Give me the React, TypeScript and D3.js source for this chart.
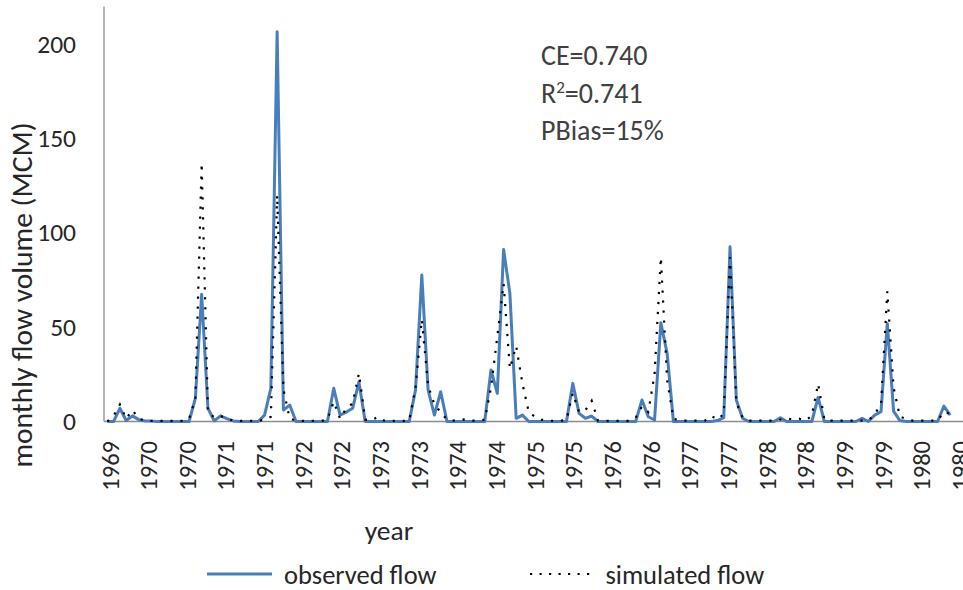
import React from 'react';
import * as d3 from 'd3';

// monthly flow volume (MCM), one value per month
const observed: number[] = [
  0, 0, 7, 0.5, 3, 1, 0.3, 0.2, 0, 0, 0, 0, 0, 0, 12.3, 67.4, 7, 0.3, 3, 1.5,
  0.3, 0, 0, 0, 0, 3.4, 17.6, 206.5, 6.1, 8.7, 0, 0, 0, 0, 0, 0, 17.6, 3.4, 5, 7,
  21, 0, 0, 0, 0, 0, 0, 0, 0, 16.7, 77.6, 16.7, 3.4, 15.8, 0, 0, 0, 0, 0, 0,
  0, 27.3, 14.9, 91.2, 67.9, 1.7, 3.4, 0, 0, 0, 0, 0, 0, 0, 20.2, 4.3, 1.7, 2.9, 0, 0,
  0, 0, 0, 0, 0, 11.4, 2.5, 0.8, 52.3, 36.1, 0, 0, 0, 0, 0, 0, 0, 0.5, 2, 92.6,
  11.4, 1.7, 0, 0, 0, 0, 0, 2, 0, 0, 0, 0, 0, 12.8, 0, 0, 0, 0, 0, 0,
  1.7, 0, 3.4, 5.2, 52, 5.5, 0.5, 0, 0, 0, 0, 0, 0, 8.2, 3.4,
];

const simulated: number[] = [
  0, 3, 9, 1.5, 6, 1.5, 0.5, 0.3, 0.3, 0.3, 0.3, 0.3, 0.3, 1.5, 12, 137, 5, 2.2, 3, 1.5,
  0.5, 0.3, 0.3, 0.3, 0.3, 1, 2.5, 120, 17, 1.5, 0.5, 0.3, 0.3, 0.3, 0.3, 1, 10.5, 1.5, 7, 9.6,
  25.5, 1, 0.5, 2.5, 0.5, 0.3, 0.3, 0.3, 0.5, 18, 54, 19, 9, 5, 1, 0.5, 0.8, 1.2, 0.5, 0.3,
  1, 18, 45, 73, 28, 40, 20, 5, 2.5, 1, 0.5, 0.3, 0.3, 1, 15, 5, 6, 11, 0.5, 0.3,
  0.3, 0.3, 0.3, 0.3, 2, 8, 5, 25, 87, 22, 1.5, 0.5, 0.5, 0.5, 0.5, 0.5, 3, 1, 4, 87,
  10, 2, 0.5, 0.5, 0.5, 0.5, 0.5, 1, 1.7, 1, 1.5, 0.5, 3, 20, 1, 0.5, 0.5, 0.5, 0.5, 0.5,
  0.5, 0.5, 4, 9, 69, 18, 2.5, 1.5, 0.5, 0.5, 0.5, 0.5, 0.5, 5, 4,
];

const xTickLabels: string[] = [
  '1969', '1970', '1970', '1971', '1971', '1972', '1972', '1973', '1973', '1974', '1974', '1975',
  '1975', '1976', '1976', '1977', '1977', '1978', '1978', '1979', '1979', '1980', '1980',
];

const yTicks: number[] = [0, 50, 100, 150, 200];

const stats: string[] = ['CE=0.740', '=0.741', 'PBias=15%'];

const FONT = "Carlito, 'Open Sans', sans-serif";
const TEXT = '#262626';
const BLUE = '#4A7EBB';
const AXIS = '#8c8c8c';

export default function App() {
  const W = 963;
  const H = 590;

  const x = d3.scaleLinear().domain([0, observed.length - 1]).range([107.3, 950.2]);
  const xLab = d3
    .scalePoint<number>()
    .domain(xTickLabels.map((_, i) => i))
    .range([110.5, 960.8]);
  const y = d3.scaleLinear().domain([0, 220]).range([421.5, 6.4]);

  const line = d3
    .line<number>()
    .x((_, i) => x(i))
    .y((d) => y(d));

  const axisLeft = 104;

  return (
    <svg
      width={W}
      height={H}
      viewBox={`0 0 ${W} ${H}`}
      style={{ position: 'absolute', left: 0, top: 0, background: '#fff' }}
      fontFamily={FONT}
    >
      <rect x={0} y={0} width={W} height={H} fill="#fff" />

      {/* axes */}
      <line x1={axisLeft} x2={axisLeft} y1={y(220)} y2={y(0)} stroke={AXIS} strokeWidth={1.3} />
      <line x1={axisLeft} x2={W} y1={y(0)} y2={y(0)} stroke={AXIS} strokeWidth={1.3} />

      {/* y tick labels */}
      {yTicks.map((t) => (
        <text
          key={t}
          x={76}
          y={y(t)}
          textAnchor="end"
          dominantBaseline="central"
          fontSize={25.5}
          fill={TEXT}
        >
          {t}
        </text>
      ))}

      {/* x tick labels */}
      {xTickLabels.map((lab, i) => (
        <text
          key={i}
          transform={`translate(${xLab(i)},441) rotate(-90)`}
          textAnchor="end"
          dominantBaseline="central"
          fontSize={24.5}
          fill={TEXT}
        >
          {lab}
        </text>
      ))}

      {/* series */}
      <path d={line(observed) || ''} fill="none" stroke={BLUE} strokeWidth={3} strokeLinejoin="round" />
      <path
        d={line(simulated) || ''}
        fill="none"
        stroke="#000"
        strokeWidth={2.2}
        strokeDasharray="2.2 7.8"
      />

      {/* axis titles */}
      <text
        transform={`translate(32,295) rotate(-90)`}
        textAnchor="middle"
        fontSize={29.5}
        fill={TEXT}
      >
        monthly flow volume (MCM)
      </text>
      <text x={389} y={539.5} textAnchor="middle" fontSize={27.5} fill={TEXT}>
        year
      </text>

      {/* statistics */}
      <text x={541} y={65} fontSize={28} fill="#404040">
        {stats[0]}
      </text>
      <text x={541} y={102.5} fontSize={28} fill="#404040">
        <tspan>R</tspan>
        <tspan dy={-10} fontSize={17}>2</tspan>
        <tspan dy={10}>{stats[1]}</tspan>
      </text>
      <text x={541} y={140} fontSize={28} fill="#404040">
        {stats[2]}
      </text>

      {/* legend */}
      <line x1={207} x2={272} y1={574} y2={574} stroke={BLUE} strokeWidth={3} />
      <text x={284} y={583.5} fontSize={26.5} fill={TEXT}>
        observed flow
      </text>
      <line x1={530} x2={590} y1={574} y2={574} stroke="#000" strokeWidth={2.2} strokeDasharray="2.2 7.3" />
      <text x={605.5} y={583.5} fontSize={26.5} fill={TEXT}>
        simulated flow
      </text>
    </svg>
  );
}
